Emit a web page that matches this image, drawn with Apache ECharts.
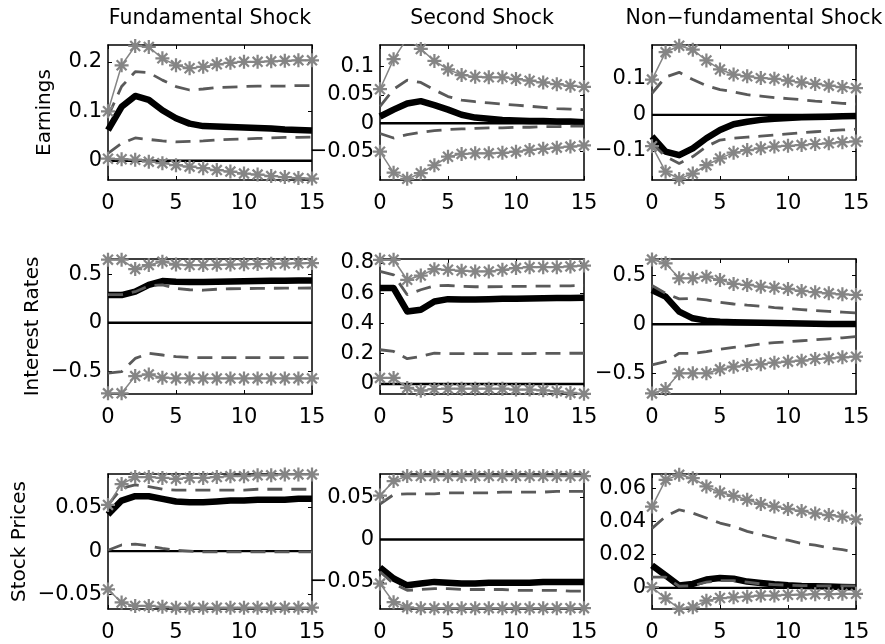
<!DOCTYPE html>
<html><head><meta charset="utf-8">
<script src="https://cdn.jsdelivr.net/npm/echarts@6/dist/echarts.min.js"></script>
<style>html,body{margin:0;padding:0;background:#fff}#c{width:885px;height:644px}</style>
</head><body><div id="c"></div>
<script>
// ---- categories / labels ----
const steps = [0,1,2,3,4,5,6,7,8,9,10,11,12,13,14,15];
const shockTitles = ['Fundamental Shock', 'Second Shock', 'Non\u2212fundamental Shock'];
const variableNames = ['Earnings', 'Interest Rates', 'Stock Prices'];
const baseline = [[0, 0], [15, 0]];

// ---- Earnings / Fundamental ----
const earnFundMed  = [0.062,0.109,0.131,0.123,0.102,0.086,0.075,0.070,0.069,0.068,0.067,0.066,0.065,0.063,0.062,0.061];
const earnFundHi68 = [0.090,0.150,0.180,0.178,0.163,0.150,0.143,0.145,0.148,0.149,0.150,0.151,0.151,0.151,0.152,0.152];
const earnFundLo68 = [0.015,0.035,0.046,0.043,0.040,0.038,0.039,0.040,0.042,0.043,0.044,0.045,0.046,0.047,0.047,0.048];
const earnFundHi90 = [0.100,0.193,0.232,0.230,0.207,0.193,0.187,0.190,0.195,0.198,0.200,0.200,0.201,0.202,0.203,0.203];
const earnFundLo90 = [0.004,0.003,0.002,-0.002,-0.005,-0.009,-0.012,-0.015,-0.019,-0.022,-0.026,-0.028,-0.031,-0.033,-0.035,-0.036];
const earnFundTicks = [0, 0.1, 0.2];

// ---- Earnings / Second ----
const earnSecMed  = [0.012,0.024,0.035,0.039,0.032,0.024,0.015,0.010,0.008,0.006,0.005,0.004,0.004,0.003,0.003,0.002];
const earnSecHi68 = [0.030,0.060,0.076,0.072,0.059,0.047,0.041,0.038,0.036,0.034,0.032,0.030,0.028,0.026,0.025,0.024];
const earnSecLo68 = [-0.018,-0.026,-0.020,-0.016,-0.013,-0.011,-0.010,-0.009,-0.008,-0.008,-0.007,-0.007,-0.006,-0.006,-0.005,-0.005];
const earnSecHi90 = [0.060,0.113,0.150,0.131,0.110,0.095,0.085,0.082,0.081,0.081,0.078,0.075,0.072,0.069,0.066,0.064];
const earnSecLo90 = [-0.050,-0.087,-0.098,-0.088,-0.074,-0.059,-0.054,-0.053,-0.053,-0.052,-0.050,-0.047,-0.045,-0.043,-0.041,-0.039];
const earnSecTicks = [-0.05, 0, 0.05, 0.1];

// ---- Earnings / Non-fundamental ----
const earnNonMed  = [-0.060,-0.102,-0.112,-0.093,-0.065,-0.042,-0.026,-0.019,-0.014,-0.011,-0.009,-0.007,-0.006,-0.005,-0.004,-0.003];
const earnNonHi68 = [0.060,0.105,0.118,0.098,0.081,0.070,0.064,0.056,0.052,0.048,0.045,0.042,0.038,0.035,0.032,0.030];
const earnNonLo68 = [-0.079,-0.116,-0.135,-0.116,-0.088,-0.070,-0.065,-0.062,-0.059,-0.056,-0.053,-0.050,-0.047,-0.044,-0.042,-0.040];
const earnNonHi90 = [0.098,0.174,0.192,0.181,0.151,0.126,0.112,0.107,0.102,0.100,0.095,0.090,0.086,0.081,0.077,0.074];
const earnNonLo90 = [-0.087,-0.158,-0.178,-0.163,-0.140,-0.121,-0.105,-0.098,-0.093,-0.088,-0.086,-0.084,-0.081,-0.079,-0.076,-0.074];
const earnNonTicks = [-0.1, 0, 0.1];

// ---- Interest Rates / Fundamental ----
const rateFundMed  = [0.285,0.285,0.320,0.390,0.430,0.423,0.420,0.420,0.423,0.425,0.428,0.430,0.432,0.433,0.435,0.436];
const rateFundHi68 = [0.290,0.290,0.320,0.380,0.390,0.354,0.340,0.335,0.345,0.350,0.352,0.354,0.355,0.356,0.357,0.358];
const rateFundLo68 = [-0.520,-0.505,-0.368,-0.316,-0.333,-0.350,-0.358,-0.360,-0.360,-0.360,-0.360,-0.360,-0.360,-0.360,-0.360,-0.360];
const rateFundHi90 = [0.650,0.650,0.553,0.595,0.629,0.600,0.595,0.595,0.597,0.600,0.602,0.605,0.608,0.610,0.612,0.615];
const rateFundLo90 = [-0.728,-0.728,-0.550,-0.533,-0.567,-0.574,-0.574,-0.574,-0.574,-0.574,-0.574,-0.574,-0.574,-0.574,-0.574,-0.574];
const rateFundTicks = [-0.5, 0, 0.5];

// ---- Interest Rates / Second ----
const rateSecMed  = [0.633,0.633,0.479,0.490,0.545,0.560,0.558,0.558,0.560,0.562,0.563,0.565,0.566,0.567,0.568,0.570];
const rateSecHi68 = [0.743,0.720,0.589,0.622,0.648,0.650,0.644,0.642,0.642,0.643,0.644,0.645,0.646,0.647,0.648,0.650];
const rateSecLo68 = [0.226,0.215,0.167,0.182,0.204,0.200,0.200,0.200,0.200,0.200,0.201,0.201,0.202,0.202,0.203,0.203];
const rateSecHi90 = [0.820,0.820,0.688,0.716,0.758,0.754,0.747,0.743,0.743,0.754,0.765,0.771,0.771,0.771,0.776,0.782];
const rateSecLo90 = [0.040,0.040,-0.026,-0.044,-0.033,-0.031,-0.031,-0.031,-0.031,-0.031,-0.037,-0.037,-0.042,-0.048,-0.059,-0.065];
const rateSecTicks = [0, 0.2, 0.4, 0.6, 0.8];

// ---- Interest Rates / Non-fundamental ----
const rateNonMed  = [0.350,0.282,0.129,0.061,0.037,0.027,0.022,0.018,0.015,0.012,0.010,0.008,0.006,0.004,0.003,0.002];
const rateNonHi68 = [0.395,0.316,0.259,0.265,0.248,0.224,0.207,0.195,0.185,0.170,0.160,0.150,0.140,0.132,0.124,0.116];
const rateNonLo68 = [-0.415,-0.380,-0.296,-0.296,-0.279,-0.255,-0.235,-0.220,-0.200,-0.188,-0.178,-0.168,-0.158,-0.148,-0.138,-0.126];
const rateNonHi90 = [0.660,0.622,0.469,0.469,0.486,0.452,0.412,0.401,0.384,0.374,0.361,0.340,0.327,0.316,0.306,0.299];
const rateNonLo90 = [-0.705,-0.660,-0.500,-0.500,-0.500,-0.459,-0.432,-0.415,-0.408,-0.391,-0.381,-0.371,-0.354,-0.347,-0.337,-0.330];
const rateNonTicks = [-0.5, 0, 0.5];

// ---- Stock Prices / Fundamental ----
const stockFundMed  = [0.042,0.058,0.063,0.063,0.060,0.057,0.056,0.056,0.057,0.058,0.058,0.059,0.059,0.059,0.060,0.060];
const stockFundHi68 = [0.053,0.072,0.076,0.074,0.071,0.070,0.070,0.070,0.070,0.070,0.070,0.071,0.071,0.071,0.071,0.071];
const stockFundLo68 = [0.001,0.007,0.008,0.006,0.003,0.001,0.000,-0.001,-0.001,-0.001,-0.001,-0.001,-0.001,-0.001,-0.001,-0.001];
const stockFundHi90 = [0.053,0.077,0.085,0.085,0.084,0.083,0.084,0.084,0.085,0.086,0.086,0.087,0.087,0.088,0.088,0.088];
const stockFundLo90 = [-0.044,-0.059,-0.063,-0.063,-0.064,-0.065,-0.065,-0.065,-0.065,-0.065,-0.065,-0.065,-0.065,-0.065,-0.065,-0.065];
const stockFundTicks = [-0.05, 0, 0.05];

// ---- Stock Prices / Second ----
const stockSecMed  = [-0.033,-0.046,-0.054,-0.052,-0.050,-0.051,-0.052,-0.052,-0.051,-0.051,-0.051,-0.051,-0.050,-0.050,-0.050,-0.050];
const stockSecHi68 = [0.042,0.053,0.054,0.054,0.054,0.055,0.055,0.055,0.055,0.056,0.056,0.056,0.056,0.057,0.057,0.057];
const stockSecLo68 = [-0.038,-0.052,-0.060,-0.059,-0.058,-0.058,-0.059,-0.059,-0.059,-0.059,-0.060,-0.060,-0.060,-0.060,-0.061,-0.061];
const stockSecHi90 = [0.052,0.069,0.075,0.075,0.075,0.075,0.075,0.075,0.075,0.075,0.075,0.075,0.075,0.075,0.075,0.075];
const stockSecLo90 = [-0.052,-0.074,-0.080,-0.081,-0.081,-0.081,-0.081,-0.081,-0.081,-0.081,-0.081,-0.081,-0.081,-0.081,-0.081,-0.081];
const stockSecTicks = [-0.05, 0, 0.05];

// ---- Stock Prices / Non-fundamental ----
const stockNonMed  = [0.0135,0.0075,0.0014,0.0024,0.0050,0.0060,0.0055,0.0038,0.0030,0.0022,0.0016,0.0012,0.0010,0.0008,0.0006,0.0004];
const stockNonHi68 = [0.0358,0.0430,0.0470,0.0450,0.0420,0.0390,0.0370,0.0340,0.0320,0.0300,0.0287,0.0267,0.0257,0.0240,0.0230,0.0216];
const stockNonLo68 = [0.0065,0.0065,0.0010,0.0014,0.0034,0.0044,0.0044,0.0034,0.0024,0.0020,0.0016,0.0014,0.0012,0.0012,0.0012,0.0012];
const stockNonHi90 = [0.0489,0.0650,0.0680,0.0660,0.0610,0.0574,0.0554,0.0530,0.0505,0.0489,0.0475,0.0463,0.0448,0.0438,0.0428,0.0412];
const stockNonLo90 = [0.0004,-0.0063,-0.0125,-0.0117,-0.0077,-0.0061,-0.0057,-0.0053,-0.0046,-0.0046,-0.0042,-0.0041,-0.0038,-0.0037,-0.0036,-0.0036];
const stockNonTicks = [0, 0.02, 0.04, 0.06];

// ---- panel assembly (row = variable, col = shock) ----
const panels = [
  {row:0,col:0,med:earnFundMed,hi68:earnFundHi68,lo68:earnFundLo68,hi90:earnFundHi90,lo90:earnFundLo90,ticks:earnFundTicks,ymin:-0.039,ymax:0.234},
  {row:0,col:1,med:earnSecMed,hi68:earnSecHi68,lo68:earnSecLo68,hi90:earnSecHi90,lo90:earnSecLo90,ticks:earnSecTicks,ymin:-0.1,ymax:0.138},
  {row:0,col:2,med:earnNonMed,hi68:earnNonHi68,lo68:earnNonLo68,hi90:earnNonHi90,lo90:earnNonLo90,ticks:earnNonTicks,ymin:-0.181,ymax:0.194},
  {row:1,col:0,med:rateFundMed,hi68:rateFundHi68,lo68:rateFundLo68,hi90:rateFundHi90,lo90:rateFundLo90,ticks:rateFundTicks,ymin:-0.735,ymax:0.657},
  {row:1,col:1,med:rateSecMed,hi68:rateSecHi68,lo68:rateSecLo68,hi90:rateSecHi90,lo90:rateSecLo90,ticks:rateSecTicks,ymin:-0.066,ymax:0.825},
  {row:1,col:2,med:rateNonMed,hi68:rateNonHi68,lo68:rateNonLo68,hi90:rateNonHi90,lo90:rateNonLo90,ticks:rateNonTicks,ymin:-0.711,ymax:0.666},
  {row:2,col:0,med:stockFundMed,hi68:stockFundHi68,lo68:stockFundLo68,hi90:stockFundHi90,lo90:stockFundLo90,ticks:stockFundTicks,ymin:-0.0665,ymax:0.0885},
  {row:2,col:1,med:stockSecMed,hi68:stockSecHi68,lo68:stockSecLo68,hi90:stockSecHi90,lo90:stockSecLo90,ticks:stockSecTicks,ymin:-0.082,ymax:0.0774},
  {row:2,col:2,med:stockNonMed,hi68:stockNonHi68,lo68:stockNonLo68,hi90:stockNonHi90,lo90:stockNonLo90,ticks:stockNonTicks,ymin:-0.0127,ymax:0.0685}
];

// ---- layout & styles ----
const colLeft = [108, 380, 652];
const rowTop = [45, 259, 474];
const panelW = 204, panelH = 135;
const FONT = 'DejaVu Sans';
const STAR = 'path://M8.4 0h3.2v20h-3.2z M0 8.4h20v3.2h-20z M4.06 1.80L18.20 15.94L15.94 18.20L1.80 4.06z M15.94 1.80L18.20 4.06L4.06 18.20L1.80 15.94z';
const fmt = v => (v < 0 ? '\u2212' + String(-v) : String(v));

const grids = [], xAxes = [], yAxes = [], series = [];
const axisLineStyle = {show: true, onZero: false, lineStyle: {color: '#000', width: 1.5}};
const tickStyle = {lineStyle: {color: '#000', width: 1}};

panels.forEach((p, i) => {
  grids.push({left: colLeft[p.col], top: rowTop[p.row], width: panelW, height: panelH, outerBoundsMode: 'none', containLabel: false});
  xAxes.push({gridIndex: i, type: 'value', position: 'bottom', min: 0, max: 15, interval: 5,
    axisLine: axisLineStyle, axisTick: Object.assign({inside: true, length: 4}, tickStyle),
    axisLabel: {fontFamily: FONT, fontSize: 21, color: '#000', margin: 13},
    splitLine: {show: false}});
  xAxes.push({gridIndex: i, type: 'value', position: 'top', min: 0, max: 15, interval: 5,
    axisLine: axisLineStyle, axisTick: Object.assign({inside: true, length: 4}, tickStyle),
    axisLabel: {show: false}, splitLine: {show: false}});
  yAxes.push({gridIndex: i, type: 'value', position: 'left', min: p.ymin, max: p.ymax,
    axisLine: axisLineStyle,
    axisTick: Object.assign({inside: true, length: 4, customValues: p.ticks}, tickStyle),
    axisLabel: {fontFamily: FONT, fontSize: 21, color: '#000', margin: 6, customValues: p.ticks, formatter: fmt},
    splitLine: {show: false}});
  yAxes.push({gridIndex: i, type: 'value', position: 'right', min: p.ymin, max: p.ymax,
    axisLine: axisLineStyle,
    axisTick: Object.assign({inside: true, length: 4, customValues: p.ticks}, tickStyle),
    axisLabel: {show: false, customValues: p.ticks}, splitLine: {show: false}});

  const xi = 2 * i, yi = 2 * i;
  const pair = arr => steps.map((s, k) => [s, arr[k]]);
  series.push({type: 'line', xAxisIndex: xi, yAxisIndex: yi, data: baseline, symbol: 'none',
    lineStyle: {color: '#000', width: 2.4}, silent: true});
  series.push({type: 'line', xAxisIndex: xi, yAxisIndex: yi, data: pair(p.med), symbol: 'none',
    lineStyle: {color: '#000', width: 6.5, join: 'round', cap: 'butt'}});
  [p.hi68, p.lo68].forEach(arr => series.push({type: 'line', xAxisIndex: xi, yAxisIndex: yi, data: pair(arr), symbol: 'none',
    lineStyle: {color: '#5a5a5a', width: 2.8, type: [15, 9]}}));
  [p.hi90, p.lo90].forEach(arr => series.push({type: 'line', xAxisIndex: xi, yAxisIndex: yi, data: pair(arr),
    symbol: STAR, symbolSize: 14, showSymbol: true, showAllSymbol: true,
    itemStyle: {color: '#858585'}, lineStyle: {color: '#858585', width: 1.5}}));
});

const graphics = [];
shockTitles.forEach((t, c) => graphics.push({type: 'text', x: colLeft[c] + panelW / 2, y: 19,
  style: {text: t, font: '20.5px "' + FONT + '"', fill: '#000', textAlign: 'center', textVerticalAlign: 'middle'}}));
const nameX = [45, 33, 20];
variableNames.forEach((t, r) => graphics.push({type: 'text', x: nameX[r], y: rowTop[r] + panelH / 2, rotation: Math.PI / 2,
  style: {text: t, font: '20px "' + FONT + '"', fill: '#000', textAlign: 'center', textVerticalAlign: 'middle'}}));

const chart = echarts.init(document.getElementById('c'), null, {renderer: 'canvas'});
chart.setOption({
  animation: false,
  backgroundColor: '#fff',
  grid: grids,
  xAxis: xAxes,
  yAxis: yAxes,
  series: series,
  graphic: graphics
});
</script></body></html>
